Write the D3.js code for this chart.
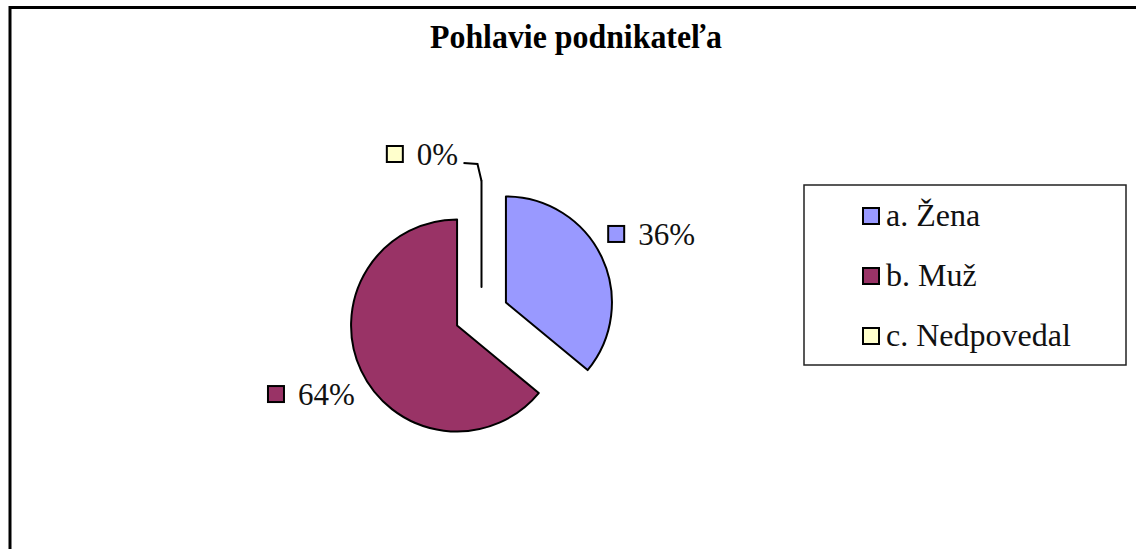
<!DOCTYPE html>
<html>
<head>
<meta charset="utf-8">
<script src="https://cdn.jsdelivr.net/npm/d3@7"></script>
<style>
  body { margin: 0; background: #fff; }
  text { font-family: "Times New Roman", "Liberation Serif", serif; }
</style>
</head>
<body>
<div id="chart-area"></div>
<script>
var categories = ["a. Žena", "b. Muž", "c. Nedpovedal"];
var values = [36, 64, 0];
var labels = ["36%", "64%", "0%"];
var colors = ["#9999FF", "#993366", "#FFFFCC"];

var width = 1136, height = 549;
var cx = 481.5, cy = 314, radius = 106, explode = 27, labelRadius = 188;

var svg = d3.select("#chart-area")
    .append("svg")
        .attr("width", width)
        .attr("height", height);

// outer frame
svg.append("rect")
    .attr("x", 10)
    .attr("y", 7.5)
    .attr("width", 1150)
    .attr("height", 570)
    .attr("fill", "none")
    .attr("stroke", "#000")
    .attr("stroke-width", 3);

svg.append("text")
    .attr("x", 576)
    .attr("y", 48)
    .attr("text-anchor", "middle")
    .attr("font-size", 34)
    .attr("font-weight", "bold")
    .attr("textLength", 292)
    .attr("lengthAdjust", "spacingAndGlyphs")
    .text("Pohlavie podnikateľa");

var data = categories.map((c, i) => ({name: c, value: values[i], label: labels[i], color: colors[i]}));

var pie = d3.pie()
    .sort(null)
    .value(d => d.value);

var arc = d3.arc()
    .innerRadius(0)
    .outerRadius(radius);

var arcs = pie(data);

function dir(a) { return [Math.sin(a), -Math.cos(a)]; }

var g = svg.append("g")
    .attr("transform", "translate(" + cx + ", " + cy + ")");

g.selectAll("path.slice")
    .data(arcs)
    .enter()
    .append("path")
        .attr("class", "slice")
        .attr("d", arc)
        .attr("transform", d => {
            var m = dir((d.startAngle + d.endAngle) / 2);
            return "translate(" + m[0] * explode + ", " + m[1] * explode + ")";
        })
        .attr("fill", d => d.data.color)
        .attr("stroke", "#000")
        .attr("stroke-width", 2)
        .attr("stroke-linejoin", "round");

// data labels
arcs.forEach(d => {
    var mid = (d.startAngle + d.endAngle) / 2;
    var m = dir(mid);
    var lx = m[0] * labelRadius, ly = m[1] * labelRadius;
    if (d.data.value === 0) {
        // zero slice: label pushed aside with a leader line
        var tip = [m[0] * (explode + radius), m[1] * (explode + radius)];
        lx = tip[0] - 59;
        ly = tip[1] - 27;
        g.append("path")
            .attr("d", d3.line()([tip, [tip[0] - 4, tip[1] - 17], [tip[0] - 18, tip[1] - 18]]))
            .attr("fill", "none")
            .attr("stroke", "#000")
            .attr("stroke-width", 2);
    }
    var lg = g.append("g");
    var t = lg.append("text")
        .attr("font-size", 31)
        .attr("fill", "#111")
        .text(d.data.label);
    var tw = t.node().getComputedTextLength();
    var total = 16 + 14 + tw;
    var left = lx - total / 2;
    lg.append("rect")
        .attr("x", left)
        .attr("y", ly - 8)
        .attr("width", 16)
        .attr("height", 16)
        .attr("fill", d.data.color)
        .attr("stroke", "#000")
        .attr("stroke-width", 2);
    t.attr("x", left + 30)
        .attr("y", ly + 11);
});

// legend
var legend = svg.append("g")
    .attr("transform", "translate(804, 185)");

legend.append("rect")
    .attr("width", 322)
    .attr("height", 180)
    .attr("fill", "#fff")
    .attr("stroke", "#222")
    .attr("stroke-width", 1.5);

var items = legend.selectAll("g.item")
    .data(data)
    .enter()
    .append("g")
        .attr("class", "item")
        .attr("transform", (d, i) => "translate(59, " + (23 + i * 60) + ")");

items.append("rect")
    .attr("width", 16)
    .attr("height", 16)
    .attr("fill", d => d.color)
    .attr("stroke", "#000")
    .attr("stroke-width", 2);

items.append("text")
    .attr("x", 23)
    .attr("y", 18)
    .attr("font-size", 32)
    .attr("fill", "#111")
    .text(d => d.name);
</script>
</body>
</html>
